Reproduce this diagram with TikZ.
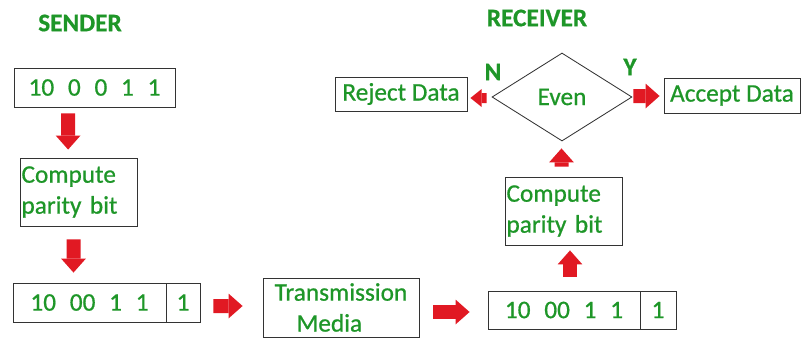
\documentclass[tikz,border=0pt]{standalone}
\usepackage{fontspec}
\setmainfont[FakeBold=0.7]{Carlito}
\newfontfamily\bitfont[WordSpace=2.4, FakeBold=0.7]{Carlito}
\usetikzlibrary{shapes.geometric,arrows.meta}
\definecolor{txtgreen}{RGB}{30,150,40}
\definecolor{arrowred}{RGB}{225,25,35}
\tikzset{
  box/.style={draw=black!80, line width=0.6pt, inner sep=0pt, text=txtgreen, font=\fontsize{18}{22}\selectfont},
  bits/.style={font=\bitfont\fontsize{18}{22}\selectfont},
  parbox/.style={box, align=left, text width=2.85cm, minimum width=2.925cm, minimum height=1.7cm},
  heading/.style={text=txtgreen, font=\fontsize{18}{22}\selectfont\bfseries},
  blk/.style={arrowred, line width=0.35cm, -{Triangle[length=0.35cm, width=0.62cm, line width=0pt]}},
  blksmall/.style={arrowred, line width=0.25cm, -{Triangle[length=0.28cm, width=0.45cm, line width=0pt]}},
}
\begin{document}
\begin{tikzpicture}
\useasboundingbox (0,0) rectangle (20.025,-8.45);

% Sender side
\node[heading] (sendhead) at (2.0,-0.575) {SENDER};
\node[box, bits, minimum width=4.025cm, minimum height=0.975cm] (data) at (2.3625,-2.1875) {10 0 0 1 1};
\node[parbox] (comp1) at (1.9625,-4.8) {Compute\\parity bit};
\node[box, bits, minimum width=3.825cm, minimum height=0.975cm] (sentbits) at (2.2375,-7.5625) {10 00 1 1};
\node[box, minimum width=0.85cm, minimum height=0.975cm] (sentpar) at (4.575,-7.5625) {1};

% Channel
\node[box, align=left, minimum width=3.9cm, minimum height=1.475cm] (media) at (8.525,-7.6875) {Transmission\\\hspace{0.55cm}Media};

% Receiver side
\node[heading] (recvhead) at (13.425,-0.45) {RECEIVER};
\node[box, diamond, minimum width=3.5cm, minimum height=2.2cm] (even) at (14.05,-2.425) {Even};
\node[box, minimum width=3.3cm, minimum height=0.85cm] (reject) at (10.025,-2.35) {Reject Data};
\node[box, minimum width=3.4cm, minimum height=0.875cm] (accept) at (18.3,-2.3875) {Accept Data};
\node[heading] (no) at (12.325,-1.8) {N};
\node[heading] (yes) at (15.75,-1.675) {Y};
\node[parbox] (comp2) at (14.0875,-5.275) {Compute\\parity bit};
\node[box, bits, minimum width=3.8cm, minimum height=0.95cm] (recvbits) at (14.1,-7.75) {10 00 1 1};
\node[box, minimum width=0.9cm, minimum height=0.95cm] (recvpar) at (16.45,-7.75) {1};

% Arrows
\draw[blk, shorten <=0.15cm, shorten >=0.2cm] ([xshift=-0.66cm]data.south) -- ([xshift=-0.26cm]comp1.north);
\draw[blk, shorten <=0.325cm, shorten >=0.25cm] ([xshift=-0.125cm]comp1.south) -- ([xshift=-0.4cm]sentbits.north);
\draw[blk, shorten <=0.325cm, shorten >=0.5cm] ([yshift=-0.0875cm]sentpar.east) -- ([yshift=0.0375cm]media.west);
\draw[blk, shorten <=0.35cm, shorten >=0.45cm] ([yshift=-0.1125cm]media.east) -- ([yshift=-0.05cm]recvbits.west);
\draw[blk, shorten <=0.35cm, shorten >=0.125cm] ([xshift=0.15cm]recvbits.north) -- ([xshift=0.1625cm]comp2.south);
\draw[blk, shorten <=0.25cm, shorten >=0.175cm] ([xshift=-0.05cm]comp2.north) -- ([xshift=-0.0125cm]even.south);
\draw[blksmall, shorten <=0.125cm, shorten >=0.075cm] ([yshift=-0.025cm]even.west) -- ([yshift=-0.1cm]reject.east);
\draw[blk, shorten <=0.025cm, shorten >=0.1cm] ([yshift=0.025cm]even.east) -- ([yshift=-0.0125cm]accept.west);

\end{tikzpicture}
\end{document}
